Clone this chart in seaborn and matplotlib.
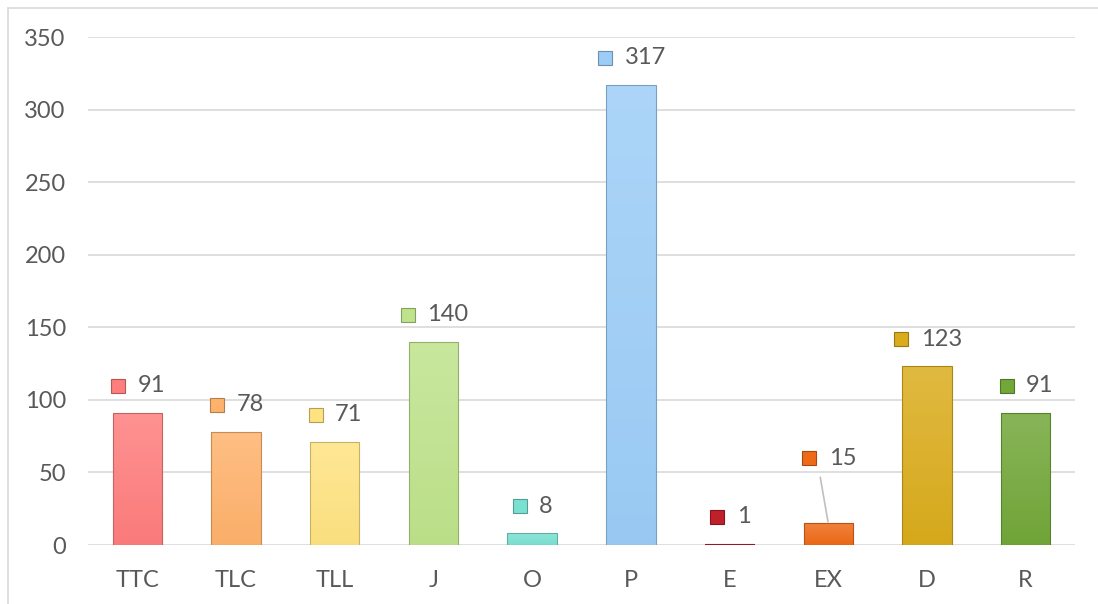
import numpy as np
import pandas as pd
import matplotlib
matplotlib.use('Agg')
import matplotlib.pyplot as plt
import matplotlib.transforms as mtransforms
from matplotlib.lines import Line2D
from matplotlib.colors import to_rgb
import seaborn as sns

# data
categories = ['TTC', 'TLC', 'TLL', 'J', 'O', 'P', 'E', 'EX', 'D', 'R']
counts = [91, 78, 71, 140, 8, 317, 1, 15, 123, 91]
bar_colors = ['#FF7D7D', '#FFB26C', '#FFE381', '#BEE38B', '#7AE1D1',
              '#9CCDF7', '#C0202A', '#EE6A17', '#DAAC1C', '#72A739']
y_ticks = [0, 50, 100, 150, 200, 250, 300, 350]

TEXT = '#595959'
GRID = '#D9D9D9'

sns.set_theme(style='white')
plt.rcParams['font.family'] = ['Lato', 'DejaVu Sans']

W, H = 1098, 604
fig = plt.figure(figsize=(W / 100, H / 100), dpi=100)
ax = fig.add_axes([88 / W, 1 - 545 / H, (1075 - 88) / W, (545 - 37) / H])

df = pd.DataFrame({'cat': categories, 'count': counts})
sns.barplot(data=df, x='cat', y='count', hue='cat', palette=bar_colors,
            width=0.5, saturation=1, legend=False, ax=ax)


def shade(c, f):
    # f > 0 lighter, f < 0 darker
    r = np.array(to_rgb(c))
    if f > 0:
        return r + (1 - r) * f
    return r * (1 + f)


# gradient fill inside every bar, darker thin edge
for patch, c in zip(ax.patches, bar_colors):
    x0, y0 = patch.get_x(), patch.get_y()
    w, h = patch.get_width(), patch.get_height()
    top, bot = shade(c, 0.16), shade(c, -0.02)
    t = np.linspace(0, 1, 64)[:, None]
    grad = top[None, :] * (1 - t[:, :, None]) + bot[None, :] * t[:, :, None]
    grad = grad.reshape(64, 1, 3)
    im = ax.imshow(grad, extent=(x0, x0 + w, y0, y0 + h), origin='upper',
                   aspect='auto', zorder=0.9, interpolation='bilinear')
    im.set_clip_path(patch)
    patch.set_facecolor('none')
    patch.set_edgecolor(shade(c, -0.22))
    patch.set_linewidth(0.8)
    patch.set_zorder(1)

ax.set_xlim(-0.5, len(categories) - 0.5)
ax.set_ylim(0, 350)
ax.set_yticks(y_ticks)
ax.yaxis.grid(True, color=GRID, linewidth=1.2)
ax.xaxis.grid(False)
ax.set_axisbelow(True)
for s in ax.spines.values():
    s.set_visible(False)
ax.set_xlabel('')
ax.set_ylabel('')
ax.tick_params(axis='y', length=0, pad=16, labelsize=17, labelcolor=TEXT)
ax.tick_params(axis='x', length=0, pad=18, labelsize=17, labelcolor=TEXT)

# data labels: small square key + value
for i, (v, c) in enumerate(zip(counts, bar_colors)):
    up = 65 if categories[i] == 'EX' else 27
    txt = str(v)
    total = 15 + 12 + 13 * len(txt)
    start = -total / 2
    mk = mtransforms.offset_copy(ax.transData, fig=fig, x=start + 7.5, y=up, units='dots')
    ax.plot([i], [v], marker='s', markersize=10.5, color=c,
            markeredgecolor=shade(c, -0.3), markeredgewidth=0.8,
            transform=mk, clip_on=False, zorder=5)
    ax.annotate(txt, xy=(i, v), xytext=((start + 27) * 0.72, up * 0.72),
                textcoords='offset points', ha='left', va='center',
                fontsize=17, color=TEXT, annotation_clip=False)
    if up > 40:
        ax.annotate('', xy=(i, v), xytext=(-8 * 0.72, (up - 19) * 0.72),
                    textcoords='offset points',
                    arrowprops=dict(arrowstyle='-', color='#BFBFBF', lw=1.2,
                                    shrinkA=0, shrinkB=1))

# outer chart frame (left and top edges visible)
fig.add_artist(Line2D([7.5 / W, 7.5 / W], [0, 1 - 7.5 / H], color=GRID, lw=1.2))
fig.add_artist(Line2D([7.5 / W, 1], [1 - 7.5 / H, 1 - 7.5 / H], color=GRID, lw=1.2))

fig.savefig('out.png', dpi=100)
